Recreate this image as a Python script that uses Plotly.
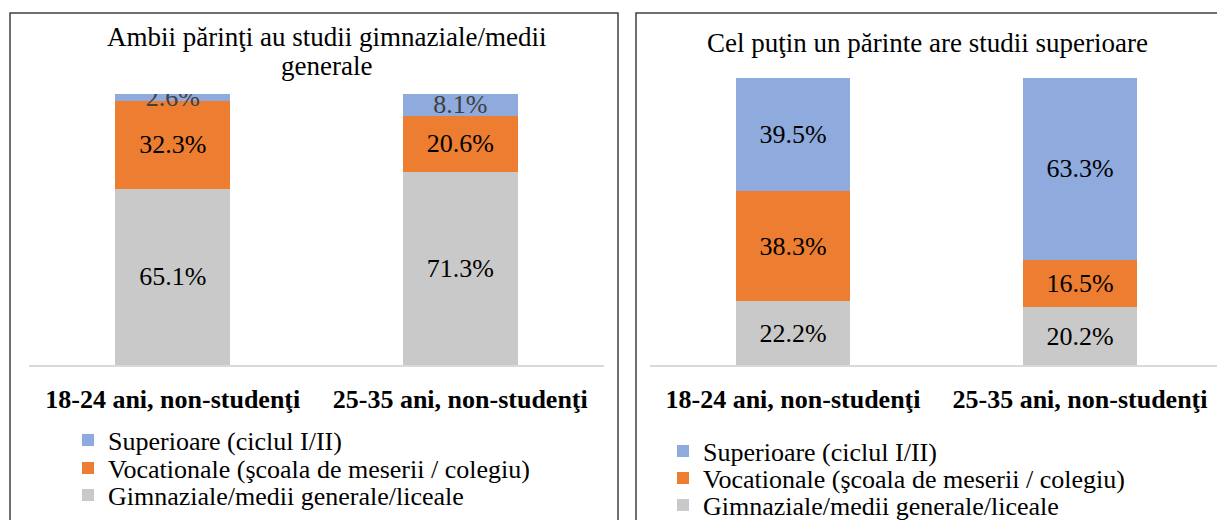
import plotly.graph_objects as go

# ---------------- data ----------------
categories = ["18-24 ani, non-studenţi", "25-35 ani, non-studenţi"]
series_names = [
    "Gimnaziale/medii generale/liceale",
    "Vocationale (şcoala de meserii / colegiu)",
    "Superioare (ciclul I/II)",
]
series_colors = ["#C9C9C9", "#ED7D31", "#8FAADC"]

p1_gimnaziale = [65.1, 71.3]
p1_vocationale = [32.3, 20.6]
p1_superioare = [2.6, 8.1]

p2_gimnaziale = [22.2, 20.2]
p2_vocationale = [38.3, 16.5]
p2_superioare = [39.5, 63.3]

title_left_lines = ["Ambii părinţi au studii gimnaziale/medii", "generale"]
title_right = "Cel puţin un părinte are studii superioare"

# ---------------- layout helpers ----------------
W, H = 1225, 520
OFF = 8  # page body margin offset
FONT = "Liberation Serif, Times New Roman, serif"


def px(x):
    return (x - OFF) / W


def py(y):
    return 1 - (y - OFF) / H


fig = go.Figure()

# legend row centres (reference pixels) for each series, bottom series first
left_rows = [495, 468, 440]
right_rows = [505, 478, 451]

panels = [
    ("x", "y", ["legend", "legend2", "legend3"],
     [p1_gimnaziale, p1_vocationale, p1_superioare],
     ["#000000", "#000000", "#404040"]),
    ("x2", "y2", ["legend4", "legend5", "legend6"],
     [p2_gimnaziale, p2_vocationale, p2_superioare],
     ["#000000", "#000000", "#000000"]),
]

for xa, ya, lgs, vals_list, txtcols in panels:
    for name, col, vals, tc, lg in zip(series_names, series_colors, vals_list, txtcols, lgs):
        fig.add_trace(go.Bar(
            x=categories, y=vals, name=name,
            xaxis=xa, yaxis=ya, legend=lg,
            marker=dict(color=col, line=dict(width=0)),
            width=0.4,
            texttemplate="%{y:.1f}%",
            textposition="inside",
            insidetextanchor="middle",
            constraintext="none",
            textfont=dict(family=FONT, size=26, color=tc),
            hoverinfo="x+y+name",
        ))

axis_common = dict(
    type="category",
    showline=True, linecolor="#D9D9D9", linewidth=1.5,
    showgrid=False, zeroline=False,
    ticks="outside", ticklen=10, tickcolor="rgba(0,0,0,0)",
    tickfont=dict(family=FONT, size=26, color="#000000", weight="bold"),
    range=[-0.5, 1.5],
    automargin=False,
    fixedrange=True,
)
yaxis_common = dict(visible=False, range=[0, 100], fixedrange=True, automargin=False)

legend_common = dict(
    xanchor="left", yanchor="middle",
    font=dict(family=FONT, size=26, color="#000000"),
    bgcolor="rgba(0,0,0,0)",
    borderwidth=0,
    itemwidth=30,
    itemclick=False, itemdoubleclick=False,
)

legends = {}
for i, yrow in enumerate(left_rows):
    key = "legend" if i == 0 else f"legend{i + 1}"
    legends[key] = dict(x=px(68), y=py(yrow), **legend_common)
for i, yrow in enumerate(right_rows):
    legends[f"legend{i + 4}"] = dict(x=px(663), y=py(yrow), **legend_common)

title_font = dict(family=FONT, size=27, color="#000000")

fig.update_layout(
    width=W, height=H,
    margin=dict(l=0, r=0, t=0, b=0, autoexpand=False),
    paper_bgcolor="white", plot_bgcolor="white",
    barmode="stack",
    showlegend=True,
    xaxis=dict(domain=[px(29), px(604)], anchor="y", **axis_common),
    yaxis=dict(domain=[py(365), py(94)], anchor="x", **yaxis_common),
    xaxis2=dict(domain=[px(649.5), px(1223.5)], anchor="y2", **axis_common),
    yaxis2=dict(domain=[py(365), py(78)], anchor="x2", **yaxis_common),
    annotations=[
        dict(text=title_left_lines[0], x=px(326), y=py(37), xref="paper", yref="paper",
             xanchor="center", yanchor="middle", showarrow=False, font=title_font),
        dict(text=title_left_lines[1], x=px(326), y=py(66), xref="paper", yref="paper",
             xanchor="center", yanchor="middle", showarrow=False, font=title_font),
        dict(text=title_right, x=px(927), y=py(43), xref="paper", yref="paper",
             xanchor="center", yanchor="middle", showarrow=False, font=title_font),
    ],
    shapes=[
        dict(type="rect", xref="paper", yref="paper",
             x0=px(10), x1=px(618), y0=-0.1, y1=py(13),
             line=dict(color="#404040", width=1.5), fillcolor="rgba(0,0,0,0)",
             layer="above"),
        dict(type="rect", xref="paper", yref="paper",
             x0=px(636), x1=1.1, y0=-0.1, y1=py(13),
             line=dict(color="#404040", width=1.5), fillcolor="rgba(0,0,0,0)",
             layer="above"),
    ],
    **legends,
)

fig.write_html("out.html")
